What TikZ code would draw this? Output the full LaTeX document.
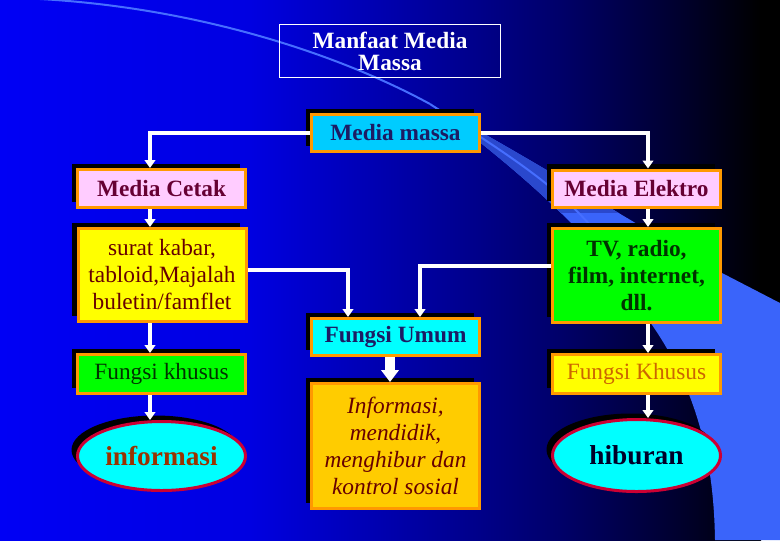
\documentclass[tikz,border=0pt]{standalone}
\usepackage{fontspec}
\setmainfont{Liberation Serif}
\usetikzlibrary{arrows.meta,shadows,calc,shapes.geometric}
\definecolor{orb}{RGB}{255,153,0}
\definecolor{crim}{RGB}{204,0,51}
\definecolor{skyc}{RGB}{0,204,255}
\definecolor{cyanc}{RGB}{0,255,255}
\definecolor{pinkc}{RGB}{255,204,255}
\definecolor{yel}{RGB}{255,255,0}
\definecolor{grn}{RGB}{0,255,0}
\definecolor{goldc}{RGB}{255,204,0}
\definecolor{navyc}{RGB}{28,28,100}
\definecolor{maroonc}{RGB}{102,0,51}
\definecolor{dred}{RGB}{102,0,0}
\definecolor{dgreen}{RGB}{0,51,0}
\definecolor{brownc}{RGB}{153,51,0}
\definecolor{ochre}{RGB}{204,102,0}
\definecolor{nearblack}{RGB}{0,0,40}
\definecolor{swl}{RGB}{58,100,250}
\definecolor{swd}{RGB}{42,72,205}
\definecolor{swline}{RGB}{70,110,255}
\definecolor{bg0}{RGB}{0,0,245}
\definecolor{bg1}{RGB}{0,0,225}
\definecolor{bg2}{RGB}{0,0,160}
\definecolor{bg3}{RGB}{0,0,105}
\definecolor{bg4}{RGB}{0,0,45}
\definecolor{bg5}{RGB}{0,0,0}
\begin{document}
\begin{tikzpicture}[x=0.75pt,y=-0.75pt,
  shadowed/.style={drop shadow={shadow xshift=-4.5pt, shadow yshift=4.5pt, fill=black, opacity=1}},
  box/.style={shadowed, draw=orb, line width=2.25pt, inner sep=0pt, align=center,
    minimum width=126pt, font=\fontsize{17.5}{20.25}\selectfont},
  oval/.style={shadowed, ellipse, draw=crim, line width=2.25pt, fill=cyanc, inner sep=0pt,
    minimum width=126pt, font=\fontsize{20.5}{22}\selectfont\bfseries},
  arr/.style={white, line width=3pt, -{Triangle[width=8pt,length=6pt]}},
  bigarr/.style={white, line width=7.5pt, -{Triangle[width=13pt,length=9pt]}}
]
\useasboundingbox (0,0) rectangle (780,540);
% background
\shade[left color=bg0, right color=bg1] (0,0) rectangle (251,540);
\shade[left color=bg1, right color=bg2] (250,0) rectangle (421,540);
\shade[left color=bg2, right color=bg3] (420,0) rectangle (561,540);
\shade[left color=bg3, right color=bg4] (560,0) rectangle (681,540);
\shade[left color=bg4, right color=bg5] (680,0) rectangle (761,540);
\fill[bg5] (760,0) rectangle (780,540);
% swoosh
\fill[swl] (430,104) .. controls (540,163) and (640,228) .. (722,273) -- (780,303) -- (780,540) -- (715,540)
  .. controls (714,480) and (705,400) .. (650,322) .. controls (620,270) and (560,200) .. (430,104) -- cycle;
\begin{scope}
\clip (400,90) rectangle (780,212);
\fill[swd] (430,104) .. controls (540,163) and (640,228) .. (722,273) -- (780,303) -- (780,540) -- (715,540)
  .. controls (714,480) and (705,400) .. (650,322) .. controls (620,270) and (560,200) .. (430,104) -- cycle;
\end{scope}
\draw[swline, line width=1.5pt] (40,-1) .. controls (200,8) and (340,55) .. (430,104);
\draw[swline, line width=1.5pt] (430,104) .. controls (500,150) and (550,180) .. (590,225);
% title
\node[draw=white, line width=0.75pt, minimum width=165.75pt, minimum height=39.75pt, inner sep=0pt,
  align=center, text=white, font=\fontsize{17.5}{16.5}\selectfont\bfseries] (title) at (390,51) {Manfaat Media\\Massa};
% left column
\node[box, fill=skyc, text=navyc, font=\fontsize{17.5}{20.25}\selectfont\bfseries, minimum height=27.75pt] (mm) at (395.5,133) {Media massa};
\node[box, fill=pinkc, text=maroonc, font=\fontsize{17.5}{20.25}\selectfont\bfseries, minimum height=28.5pt] (cetak) at (161.5,188.5) {Media Cetak};
\node[box, fill=yel, text=dred, minimum height=69.75pt] (surat) at (162,275) {surat kabar,\\tabloid,Majalah\\buletin/famflet};
\node[box, fill=grn, text=dgreen, minimum height=29.25pt] (fkh) at (161.5,374) {Fungsi khusus};
\node[oval, text=brownc, minimum height=51.75pt] (info) at (161.5,456) {informasi};
% middle column
\node[box, fill=cyanc, text=navyc, font=\fontsize{17.5}{20.25}\selectfont\bfseries, minimum height=27.75pt] (fum) at (395.5,337) {Fungsi Umum};
\node[box, fill=goldc, text=dred, font=\fontsize{17.5}{20.25}\selectfont\itshape, minimum height=93.75pt] (infobox) at (395.5,446) {Informasi,\\mendidik,\\menghibur dan\\kontrol sosial};
% right column
\node[box, fill=pinkc, text=maroonc, font=\fontsize{17.5}{20.25}\selectfont\bfseries, minimum height=27.75pt] (elektro) at (636.5,188.5) {Media Elektro};
\node[box, fill=grn, text=dgreen, font=\fontsize{17.5}{20.25}\selectfont\bfseries, minimum height=70.5pt] (tv) at (636.5,275.5) {TV, radio,\\film, internet,\\dll.};
\node[box, fill=yel, text=ochre, minimum height=29.25pt] (fks) at (636.5,374) {Fungsi Khusus};
\node[oval, text=nearblack, minimum height=54pt] (hib) at (636.5,455.5) {hiburan};
% connector columns
\coordinate (cL) at (150,0);
\coordinate (cR) at (648,0);
\coordinate (cU1) at (348,0);
\coordinate (cU2) at (420,0);
\coordinate (cM) at (390,0);
% connectors
\draw[arr] (mm.west) -| (cL |- cetak.north);
\draw[arr] (mm.east) -| (cR |- elektro.north);
\draw[arr] (cL |- cetak.south) -- (cL |- surat.north);
\draw[arr] ($(surat.east)+(0,-5)$) -| (cU1 |- fum.north);
\draw[arr] ($(tv.west)+(0,-10)$) -| (cU2 |- fum.north);
\draw[arr] (cL |- surat.south) -- (cL |- fkh.north);
\draw[arr] (cL |- fkh.south) -- (cL |- info.north);
\draw[bigarr] (cM |- fum.south) -- (cM |- infobox.north);
\draw[arr] (cR |- elektro.south) -- (cR |- tv.north);
\draw[arr] (cR |- tv.south) -- (cR |- fks.north);
\draw[arr] (cR |- fks.south) -- (cR |- hib.north);
\end{tikzpicture}
\end{document}
